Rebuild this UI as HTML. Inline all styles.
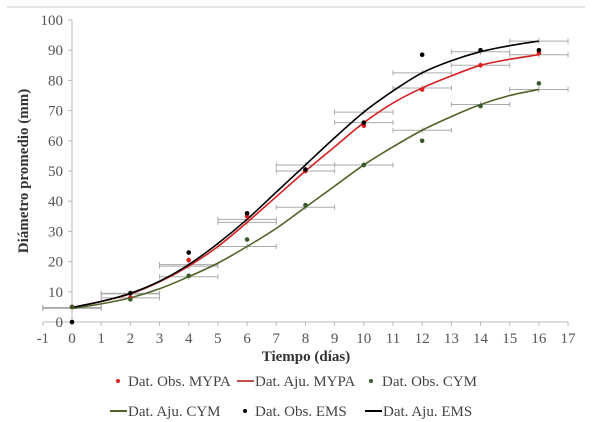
<!DOCTYPE html>
<html><head><meta charset="utf-8"><style>
body{margin:0;background:#fff;}
svg{display:block;font-family:"Liberation Serif",serif;}
</style></head><body>
<svg id="chart" width="600" height="422" viewBox="0 0 600 422" xmlns="http://www.w3.org/2000/svg">
<line x1="7" y1="7" x2="585" y2="7" stroke="#ddd" stroke-width="1.5"/>
<g id="axes"></g>
<g id="errs"></g>
<g id="lines"></g>
<g id="pts"></g>
<text transform="translate(28,171) rotate(-90)" text-anchor="middle" font-weight="bold" font-size="15" fill="#333">Diámetro promedio (mm)</text>
<text x="306" y="361" text-anchor="middle" font-weight="bold" font-size="15" fill="#333">Tiempo (días)</text>
<g font-size="15" fill="#444">
<circle cx="118" cy="381" r="2" fill="#e02020"/>
<text x="128" y="386">Dat. Obs. MYPA</text>
<line x1="237" y1="381" x2="254" y2="381" stroke="#c0504d" stroke-width="2"/>
<text x="255" y="386">Dat. Aju. MYPA</text>
<circle cx="371" cy="381" r="2" fill="#3a5a2a"/>
<text x="382" y="386">Dat. Obs. CYM</text>
<line x1="110" y1="411" x2="127" y2="411" stroke="#4f6228" stroke-width="2"/>
<text x="128" y="416">Dat. Aju. CYM</text>
<circle cx="245" cy="411" r="2" fill="#000"/>
<text x="255" y="416">Dat. Obs. EMS</text>
<line x1="365" y1="411" x2="382" y2="411" stroke="#000" stroke-width="2"/>
<text x="383" y="416">Dat. Aju. EMS</text>
</g>
</svg>
<script>
const obsX=[0,2,4,6,8,10,12,14,16];
const obsMYPA=[5,8,20.5,35,50,65,77,85,89];
const obsCYM=[5,7.5,15.3,27.3,38.7,52,60,71.5,79];
const obsEMS=[0,9.5,23,36,50.5,66,88.5,90,90];
const fitX=[0,1,2,3,4,5,6,7,8,9,10,11,12,13,14,15,16];
const fitMYPA=[4.8,6.8,9.3,13.3,18.5,25,33,41.5,50,58,66,72.5,77.5,81.5,85,87,88.5];
const fitCYM=[4.5,6,8,11,15,19.5,25,31,38,45,52,58,63.5,68,72,75,77];
const fitEMS=[4.8,6.8,9.5,13.5,19,26,34,43,52,61,69.5,76.5,82.5,86.5,89.5,91.5,93];
const xTicks=[-1,0,1,2,3,4,5,6,7,8,9,10,11,12,13,14,15,16,17];
const yTicks=[0,10,20,30,40,50,60,70,80,90,100];
const NS="http://www.w3.org/2000/svg";
const X=v=>72+(v)*29.18, Y=v=>322-v*3.02;
function mk(tag,attrs,parent){const e=document.createElementNS(NS,tag);for(const k in attrs)e.setAttribute(k,attrs[k]);parent.appendChild(e);return e;}
const ax=document.getElementById('axes');
let l=mk('line',{x1:X(-1),y1:Y(0),x2:X(17),y2:Y(0),stroke:'#bbb'},ax);


l=mk('line',{x1:X(0),y1:Y(0),x2:X(0),y2:Y(100),stroke:'#bbb'},ax);


xTicks.forEach(t=>{
  mk('line',{x1:X(t),y1:Y(0),x2:X(t),y2:Y(0)+4,stroke:'#bbb'},ax);
  const tx=mk('text',{x:X(t),y:343,'text-anchor':'middle','font-size':15,fill:'#555'},ax);tx.textContent=t;
  
  
});
yTicks.forEach(t=>{
  mk('line',{x1:X(0)-4,y1:Y(t),x2:X(0),y2:Y(t),stroke:'#bbb'},ax);
  const tx=mk('text',{x:X(0)-9,y:Y(t)+5,'text-anchor':'end','font-size':15,fill:'#555'},ax);tx.textContent=t;
  
  
});
const series=[['mypa',obsMYPA,fitMYPA,'#e02020','#d42020'],['cym',obsCYM,fitCYM,'#3a5a2a','#4f6228'],['ems',obsEMS,fitEMS,'#000','#000']];
const eg=document.getElementById('errs'),lg=document.getElementById('lines'),pg=document.getElementById('pts');
function path(xs,ys){const p=xs.map((x,i)=>[X(x),Y(ys[i])]);let d='M'+p[0][0]+','+p[0][1];
  for(let i=0;i<p.length-1;i++){const p0=p[i-1]||p[i],p1=p[i],p2=p[i+1],p3=p[i+2]||p2;
    d+=` C${p1[0]+(p2[0]-p0[0])/6},${p1[1]+(p2[1]-p0[1])/6} ${p2[0]-(p3[0]-p1[0])/6},${p2[1]-(p3[1]-p1[1])/6} ${p2[0]},${p2[1]}`;}return d;}
series.forEach(([n,obs,fit,pc,lc])=>{
  obsX.forEach(x=>{const fy=Y(fit[fitX.indexOf(x)]);
    const e=mk('path',{d:`M${X(x-1)},${fy}H${X(x+1)}M${X(x-1)},${fy-2.5}v5M${X(x+1)},${fy-2.5}v5M${X(x)},${fy-3}v6`,stroke:'#aaa','stroke-width':1,fill:'none'},eg);
    
    
  });
  const p=mk('path',{d:path(fitX,fit),stroke:lc,'stroke-width':1.6,fill:'none'},lg);
  
  
  obsX.forEach((x,i)=>{const c=mk('circle',{cx:X(x),cy:Y(obs[i]),r:2.3,fill:pc},pg);
    
    
  });
});
</script>
</body></html>
